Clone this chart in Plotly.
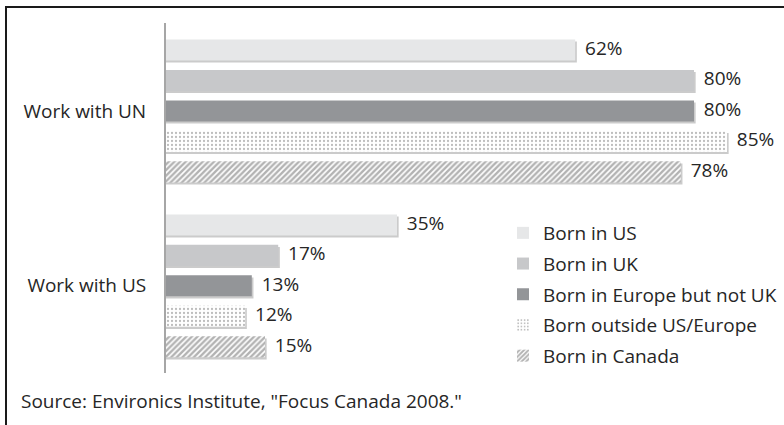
import plotly.graph_objects as go

categories = ["Work with UN", "Work with US"]
series_names = ["Born in US", "Born in UK", "Born in Europe but not UK",
                "Born outside US/Europe", "Born in Canada"]
born_us = [62, 35]
born_uk = [80, 17]
born_europe = [80, 13]
born_outside = [85, 12]
born_canada = [78, 15]
values = [born_us, born_uk, born_europe, born_outside, born_canada]

colors = ["#e6e7e8", "#c7c8ca", "#939598", "#ffffff", "#ffffff"]
patterns = ["", "", "", ".", "/"]

FONT = "Open Sans"
FS = 19
TXT = "#262626"
group_step = 5.74
bar_w = 0.69

def ypos(k, s):
    return k * group_step + s

fig = go.Figure()

# shadows
for s, vals in enumerate(values):
    fig.add_trace(go.Bar(
        x=[v + 0.25 for v in vals],
        y=[ypos(k, s) + 0.07 for k in range(len(categories))],
        orientation="h", width=bar_w,
        marker=dict(color="rgba(140,140,140,0.45)", line=dict(width=0)),
        showlegend=False, hoverinfo="skip"))

for s, (name, vals) in enumerate(zip(series_names, values)):
    marker = dict(color=colors[s], line=dict(width=0))
    if patterns[s] == ".":
        marker["pattern"] = dict(shape=".", fgcolor="#7a7a7a",
                                 bgcolor="#ffffff", size=4, solidity=0.25)
    elif patterns[s] == "/":
        marker["pattern"] = dict(shape="/", fgcolor="#666666",
                                 bgcolor="#ffffff", size=4, solidity=0.6)
    fig.add_trace(go.Bar(
        x=vals, y=[ypos(k, s) for k in range(len(categories))],
        orientation="h", width=bar_w, name=name, marker=marker,
        legendgroup=name))
    fig.add_trace(go.Scatter(
        x=vals, y=[ypos(k, s) for k in range(len(categories))],
        mode="text", text=[f"  {v}%" for v in vals],
        textposition="middle right",
        textfont=dict(family=FONT, size=FS, color=TXT),
        showlegend=False, hoverinfo="skip", cliponaxis=False))

fig.update_layout(
    width=784, height=425,
    margin=dict(l=166, r=24, t=23, b=52, autoexpand=False),
    paper_bgcolor="white", plot_bgcolor="white",
    barmode="overlay",
    font=dict(family=FONT, size=FS, color=TXT),
    xaxis=dict(range=[0, 90], showgrid=False, showticklabels=False,
               zeroline=False, showline=False, ticks=""),
    yaxis=dict(range=[10.6, -0.885], showgrid=False, zeroline=False,
               showline=True, linecolor="#a6a6a6", linewidth=2,
               tickvals=[ypos(k, 2) for k in range(len(categories))],
               ticktext=categories, ticks="", ticklabelstandoff=14,
               tickfont=dict(family=FONT, size=FS, color=TXT)),
    legend=dict(x=(503 - 166) / 594, y=(373 - 214) / 350,
                xanchor="left", yanchor="top", tracegroupgap=3,
                font=dict(family=FONT, size=FS, color=TXT),
                bgcolor="rgba(0,0,0,0)"),
    showlegend=True,
)

fig.add_annotation(xref="paper", yref="paper", x=-(166 - 19) / 594,
                   y=-(401 - 373) / 350, xanchor="left", yanchor="middle",
                   text='Source: Environics Institute, "Focus Canada 2008."',
                   showarrow=False, font=dict(family=FONT, size=FS, color=TXT))

fig.add_shape(type="rect", xref="paper", yref="paper",
              x0=-(166 - 6) / 594, x1=(800 - 166) / 594,
              y0=-(440 - 373) / 350, y1=(373 - 7) / 350,
              line=dict(color="#1a1a1a", width=2), fillcolor="rgba(0,0,0,0)",
              layer="below")

fig.write_html("out.html",
               config={"displayModeBar": False},
               post_script="document.body.style.margin='0px';"
                           "document.body.style.overflow='hidden';")
